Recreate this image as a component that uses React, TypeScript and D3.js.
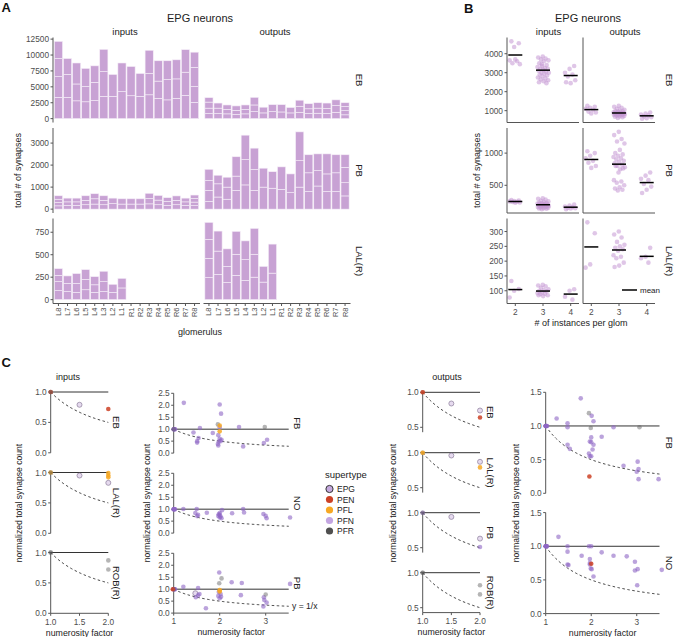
import { useEffect, useRef } from 'react'
import * as d3 from 'd3'

const FONT = '"Liberation Sans", Arial, Helvetica, sans-serif'
const AX = '#555'
const TICK_TXT = '#4d4d4d'
const BAR = '#c8a2d4'

// ---------- panel A: total synapses per glomerulus (cumulative tops of each EPG neuron) ----------
const gloms = ['L8', 'L7', 'L6', 'L5', 'L4', 'L3', 'L2', 'L1', 'R1', 'R2', 'R3', 'R4', 'R5', 'R6', 'R7', 'R8']

const ebInputs = [
  [3350, 6600, 9450, 12150], [3350, 6950, 9450], [2800, 5450, 8750], [2650, 5050, 7900],
  [2850, 5700, 8300], [3500, 7400, 10900], [3500, 6950], [4250, 8750],
  [3600, 8200], [3500, 7100], [3750, 7100, 10750], [3200, 5900, 9100],
  [2950, 6150, 9100], [3200, 6250, 9250], [3650, 7300, 10850], [2550, 5050, 8050, 10450],
]
const ebOutputs = [
  [800, 1650, 2600, 3300], [800, 1650, 2450], [750, 1450, 2150], [650, 1300, 2000],
  [750, 1450, 2150], [1100, 2150, 3350], [900, 1800], [1100, 2200],
  [1050, 2200], [900, 1750], [1000, 1950, 2900], [800, 1550, 2350],
  [850, 1650, 2500], [800, 1600, 2450], [1000, 2050, 2950], [600, 1250, 1900, 2500],
]
const pbInputs = [
  [150, 300, 450, 607], [170, 330, 500], [170, 330, 500], [200, 400, 607],
  [230, 470, 700], [200, 400, 607], [250, 500], [230, 470],
  [230, 470], [230, 470], [240, 480, 720], [200, 410, 620],
  [170, 350, 520], [200, 400, 600], [170, 330, 500], [160, 320, 480, 640],
]
const pbOutputs = [
  [350, 850, 1300, 1810], [550, 1150, 1540], [450, 1000, 1450], [850, 1500, 2380],
  [1100, 2250, 3360], [850, 1800, 2770], [1000, 1860], [950, 1700],
  [900, 1920], [750, 1600], [1000, 2200, 3510], [800, 1650, 2470],
  [1050, 1750, 2510], [800, 1600, 2510], [800, 1650, 2470], [600, 1200, 1900, 2470],
]
const lalInputs = [
  [100, 200, 270, 345], [90, 180, 264], [80, 180, 290], [110, 225, 334],
  [80, 165, 256], [90, 200, 316], [80, 171], [130, 237],
  [], [], [], [], [], [], [], [],
]
const lalOutputs = [
  [245, 460, 670, 860], [280, 540, 763], [190, 370, 565], [270, 505, 760],
  [215, 445, 654], [250, 505, 793], [195, 370], [295, 618],
  [], [], [], [], [], [], [], [],
]

// ---------- panel B: synapses per neuron, grouped by # of instances per glom (2, 3, 4) ----------
const instances = ['2', '3', '4']
const bEbIn = [
  [4650, 4550, 4350, 3650, 3600, 3500, 3450, 3700],
  [3850, 3800, 3750, 3700, 3650, 3600, 3500, 3400, 3350, 3300, 3250, 3200, 3200, 3150, 3100, 3050, 3000, 3000, 2950, 2900, 2850, 2800, 2750, 2700, 2650, 2600, 2550, 2500, 2450, 3450],
  [3350, 3200, 3000, 2900, 2800, 2600, 2450, 2500],
]
const bEbOut = [
  [1250, 1200, 1150, 1100, 1050, 950, 900, 850],
  [1250, 1200, 1150, 1100, 1050, 1000, 980, 960, 940, 920, 900, 890, 880, 870, 860, 850, 840, 830, 820, 810, 800, 790, 780, 760, 740, 720, 700, 680, 650, 620],
  [900, 850, 800, 750, 700, 650, 600, 580],
]
const bPbIn = [
  [270, 265, 255, 250, 245, 240, 235, 230],
  [300, 290, 280, 260, 250, 240, 230, 225, 220, 215, 210, 205, 200, 200, 195, 190, 185, 180, 180, 175, 170, 170, 165, 160, 155, 150, 145, 140, 135, 130],
  [200, 185, 170, 160, 150, 145, 140, 130],
]
const bPbOut = [
  [1030, 1000, 960, 920, 880, 850, 800, 770],
  [1330, 1280, 1220, 1180, 1150, 1050, 1000, 980, 960, 940, 920, 900, 880, 860, 840, 820, 800, 780, 750, 800, 760, 700, 580, 560, 540, 500, 470, 450, 430, 420],
  [700, 650, 600, 580, 520, 480, 430, 380],
]
const bLalIn = [
  [133, 106, 100, 77],
  [120, 118, 115, 110, 105, 102, 100, 98, 95, 92, 90, 88, 85, 82, 85],
  [105, 100, 80, 70],
]
const bLalOut = [
  [331, 294, 189, 178],
  [300, 290, 280, 265, 255, 250, 245, 240, 235, 220, 215, 210, 195, 185, 180],
  [245, 215, 210, 195],
]

// ---------- panel C: normalized total synapse count vs numerosity factor ----------
type Pt = [number, number, string]
const supertypes = ['EPG', 'PEN', 'PFL', 'PFN', 'PFR']

const cInEB: Pt[] = [[1, 1, 'PEN'], [1, 1, 'PFR'], [1.5, 0.79, 'EPG'], [2, 0.72, 'PEN']]
const cInLAL: Pt[] = [[1, 1, 'PFL'], [1, 1, 'PFR'], [1.5, 0.95, 'EPG'], [2, 0.83, 'EPG'], [2, 0.99, 'PFL'], [2, 0.95, 'PFL'], [2, 0.92, 'PFL']]
const cInROB: Pt[] = [[1, 1, 'PFR'], [1, 1, 'PFR'], [2, 0.87, 'PFR'], [2, 0.72, 'PFR']]

const cInFB: Pt[] = [
  [1, 1, 'PFN'], [1, 1, 'PFN'], [1.01, 1, 'PFN'], [1.02, 1, 'PFN'], [1.03, 1, 'PFN'], [1, 1, 'PFR'],
  [1.22, 2.1, 'PFN'], [2.0, 2.03, 'PFN'], [2.03, 1.65, 'PFN'], [1.57, 1.05, 'PFN'], [1.43, 0.86, 'PFN'],
  [1.54, 0.63, 'PFN'], [1.51, 0.5, 'PFN'], [1.51, 0.44, 'PFN'], [1.85, 0.84, 'PFN'], [1.96, 1.2, 'PFR'],
  [2.0, 1.08, 'PFN'], [1.97, 0.75, 'PFN'], [2.0, 0.6, 'PFN'], [2.02, 0.5, 'PFN'], [1.98, 0.48, 'PFN'],
  [1.96, 0.38, 'PFN'], [1.97, 0.32, 'PFN'], [2.04, 0.56, 'PFN'], [2.0, 1.15, 'PFL'], [2.0, 0.91, 'PFL'],
  [2.42, 1.09, 'PFN'], [2.51, 0.28, 'PFN'], [2.98, 1.09, 'PFR'], [2.96, 0.42, 'PFN'], [3.03, 0.56, 'PFN'],
]
const cInNO: Pt[] = [
  [1, 1, 'PFN'], [1, 1, 'PFN'], [1.01, 1, 'PFN'], [1.02, 1, 'PFN'], [1.03, 1, 'PFN'], [1, 1, 'PFN'],
  [1.21, 1.01, 'PFN'], [1.5, 1.01, 'PFN'], [1.47, 0.84, 'PFN'], [1.53, 0.76, 'PFN'], [1.51, 0.71, 'PFN'],
  [1.72, 0.85, 'PFN'], [2.0, 0.84, 'PFN'], [1.98, 0.79, 'PFN'], [2.0, 0.76, 'PFN'], [1.97, 0.72, 'PFN'],
  [2.02, 0.69, 'PFN'], [2.0, 0.65, 'PFN'], [2.04, 0.62, 'PFN'], [2.05, 0.96, 'PFN'], [2.27, 0.83, 'PFN'],
  [2.51, 1.01, 'PFN'], [2.53, 0.86, 'PFN'], [2.95, 0.8, 'PFN'], [3.0, 0.72, 'PFN'], [3.02, 0.62, 'PFN'],
  [3.53, 0.65, 'PFN'],
]
const cInPB: Pt[] = [
  [1, 1, 'PFN'], [1, 1, 'PFN'], [1.01, 1, 'PFN'], [1.02, 1, 'PFN'], [1.03, 1, 'PFN'], [1, 1, 'PFR'], [0.98, 1, 'PEN'],
  [1.21, 1.1, 'PFN'], [1.53, 1.05, 'PFN'], [1.47, 0.83, 'EPG'], [1.53, 0.74, 'PFN'], [1.48, 0.66, 'PFN'],
  [1.56, 0.8, 'PFN'], [1.7, 0.2, 'PFN'], [1.99, 1.7, 'PFN'], [2.04, 1.45, 'PFR'], [1.99, 1.25, 'PFR'],
  [2.26, 1.29, 'PFN'], [2.48, 1.26, 'PFN'], [1.98, 0.88, 'PFN'], [2.02, 0.8, 'PFN'], [1.97, 0.72, 'PFN'],
  [2.03, 0.68, 'PFN'], [2.0, 0.62, 'PFN'], [2.0, 0.96, 'PFL'], [2.0, 0.9, 'PFL'], [2.46, 0.75, 'PFN'],
  [2.96, 0.66, 'PFN'], [2.97, 0.55, 'PFN'], [2.95, 0.28, 'PFN'], [3.0, 0.78, 'PFR'], [3.02, 0.44, 'PFN'],
  [3.53, 1.22, 'PFN'],
]

const cOutEB: Pt[] = [[1, 1, 'PFR'], [1, 1, 'PEN'], [1.5, 0.84, 'EPG'], [2, 0.74, 'EPG'], [2, 0.64, 'PEN']]
const cOutLAL: Pt[] = [[1, 1, 'PFR'], [1, 1, 'PFL'], [1.5, 0.96, 'EPG'], [2, 0.87, 'EPG'], [2, 0.79, 'PFL']]
const cOutPB: Pt[] = [[1, 1, 'PFN'], [1, 1, 'PFR'], [1.5, 0.94, 'EPG'], [2, 0.63, 'EPG'], [2, 0.51, 'PFN']]
const cOutROB: Pt[] = [[1, 1, 'PFR'], [1, 1, 'PFR'], [2, 0.82, 'PFR'], [2, 0.69, 'PFR']]

const cOutFB: Pt[] = [
  [1, 1, 'PFN'], [1, 1, 'PFN'], [1.01, 1, 'PFN'], [1.02, 1, 'PFN'], [1.03, 1, 'PFN'], [1, 1, 'PFN'],
  [1.24, 1.11, 'PFN'], [1.77, 1.41, 'PFN'], [1.48, 1.04, 'PFN'], [1.48, 0.98, 'PFN'], [1.48, 0.72, 'PFN'],
  [1.53, 0.66, 'PFN'], [1.95, 1.19, 'PFR'], [2.01, 1.15, 'PFN'], [2.05, 1.07, 'PFN'], [1.99, 0.97, 'PFR'],
  [2.0, 0.83, 'PFN'], [1.97, 0.77, 'PFN'], [2.0, 0.76, 'PFN'], [2.05, 0.72, 'PFN'], [2.03, 0.65, 'PFN'],
  [1.95, 0.59, 'PFN'], [1.97, 0.55, 'PFN'], [2.0, 0.55, 'PFN'], [2.23, 0.84, 'PFN'], [1.96, 0.25, 'PEN'],
  [2.49, 0.98, 'PFN'], [2.71, 0.41, 'PFN'], [3.06, 0.98, 'PFR'], [3.02, 0.47, 'PFN'], [3.04, 0.36, 'PFN'],
  [3.0, 0.32, 'PFN'], [3.04, 0.21, 'PFN'], [3.48, 0.21, 'PFN'],
]
const cOutNO: Pt[] = [
  [1, 1, 'PFN'], [1, 1, 'PFN'], [1.01, 1, 'PFN'], [1.02, 1, 'PFN'], [1.03, 1, 'PFN'], [1, 1, 'PFN'],
  [1.28, 1.14, 'PFN'], [1.48, 1.0, 'PFN'], [1.48, 0.92, 'PFN'], [1.48, 0.73, 'PFN'], [1.5, 0.72, 'PFN'],
  [1.79, 0.86, 'PFN'], [1.95, 1.0, 'PFN'], [2.0, 1.0, 'PFN'], [1.97, 0.81, 'PFN'], [1.97, 0.75, 'PFN'],
  [1.99, 0.67, 'PFN'], [2.01, 0.66, 'PFN'], [1.97, 0.73, 'PFN'], [2.0, 0.74, 'PEN'], [2.05, 0.55, 'PFN'],
  [2.23, 0.91, 'PFN'], [2.49, 0.86, 'PFN'], [2.78, 0.85, 'PFN'], [2.96, 0.77, 'PFN'], [3.02, 0.66, 'PFN'],
  [2.96, 0.64, 'PFN'], [3.01, 0.42, 'PFN'], [3.55, 0.65, 'PFN'],
]

const ptFill: Record<string, string> = { EPG: '#e0d2ec', PEN: '#cc4125', PFL: '#f7a823', PFN: '#8e66c4', PFR: '#5a5a5a' }
const ptAlpha: Record<string, number> = { EPG: 0.8, PEN: 0.85, PFL: 0.85, PFN: 0.6, PFR: 0.45 }
const legendFill: Record<string, string> = { EPG: '#c5a9df', PEN: '#cc4125', PFL: '#f7a823', PFN: '#c3a5e1', PFR: '#4f4f4f' }

export default function App() {
  const ref = useRef<SVGSVGElement>(null)

  useEffect(() => {
    if (!ref.current) return
    const svg = d3.select(ref.current)
    svg.selectAll('*').remove()
    const g = svg.append('g')

    const txt = (x: number, y: number, s: string, o: any = {}) =>
      g.append('text')
        .attr('transform', `translate(${x},${y})` + (o.rotate ? ` rotate(${o.rotate})` : ''))
        .attr('font-family', FONT)
        .attr('font-size', o.size ?? 8.3)
        .attr('font-weight', o.weight ?? 'normal')
        .attr('text-anchor', o.anchor ?? 'middle')
        .attr('dominant-baseline', o.baseline ?? 'central')
        .attr('fill', o.fill ?? '#222')
        .text(s)

    const vline = (x: number, y1: number, y2: number) =>
      g.append('line').attr('x1', x).attr('x2', x).attr('y1', y1).attr('y2', y2).attr('stroke', AX).attr('stroke-width', 1)
    const hline = (y: number, x1: number, x2: number, color = AX, w = 1) =>
      g.append('line').attr('x1', x1).attr('x2', x2).attr('y1', y).attr('y2', y).attr('stroke', color).attr('stroke-width', w)

    const yTicks = (y: d3.ScaleLinear<number, number>, x: number, ticks: number[], fmt: (v: number) => string, labels = true) => {
      ticks.forEach(t => {
        hline(y(t), x - 2.5, x)
        if (labels) txt(x - 4, y(t), fmt(t), { anchor: 'end', fill: TICK_TXT })
      })
    }

    // ===== panel labels =====
    txt(1.5, 11.7, 'A', { anchor: 'start', baseline: 'alphabetic', size: 13, weight: 'bold', fill: '#111' })
    txt(464, 12.7, 'B', { anchor: 'start', baseline: 'alphabetic', size: 13, weight: 'bold', fill: '#111' })
    txt(1.5, 366.7, 'C', { anchor: 'start', baseline: 'alphabetic', size: 13, weight: 'bold', fill: '#111' })

    // ===== panel A =====
    const rowTop = [37.5, 128, 218.5]
    const rowH = 85
    const rowsA = [
      { label: 'EB', sets: [ebInputs, ebOutputs], ticks: [0, 2500, 5000, 7500, 10000, 12500] },
      { label: 'PB', sets: [pbInputs, pbOutputs], ticks: [0, 1000, 2000, 3000] },
      { label: 'LAL(R)', sets: [lalInputs, lalOutputs], ticks: [0, 250, 500, 750] },
    ]
    const aFacets: [number, number][] = [[53, 200], [203.5, 350.5]]

    txt(200, 18, 'EPG neurons', { size: 11 })
    txt(125, 31, 'inputs', { size: 9.5 })
    txt(275, 31, 'outputs', { size: 9.5 })

    rowsA.forEach((row, r) => {
      const max = d3.max(row.sets.flat().map(s => (s.length ? s[s.length - 1] : 0))) as number
      const pad = max * 0.05
      const y = d3.scaleLinear().domain([-pad, max + pad]).range([rowTop[r] + rowH, rowTop[r]])
      row.sets.forEach((set, f) => {
        const x = d3.scaleBand().domain(gloms).range(aFacets[f]).paddingInner(0.1).paddingOuter(0.15)
        set.forEach((tops, i) => {
          tops.forEach((top, k) => {
            const bottom = k ? tops[k - 1] : 0
            g.append('rect')
              .attr('x', x(gloms[i]) as number)
              .attr('width', x.bandwidth())
              .attr('y', y(top))
              .attr('height', y(bottom) - y(top))
              .attr('fill', BAR)
              .attr('stroke', '#f6eef8')
              .attr('stroke-width', 0.6)
          })
        })
        if (r === 2) {
          hline(rowTop[r] + rowH, aFacets[f][0], aFacets[f][1])
          gloms.forEach(gl => {
            const cx = (x(gl) as number) + x.bandwidth() / 2
            vline(cx, rowTop[r] + rowH, rowTop[r] + rowH + 2.5)
            txt(cx, rowTop[r] + rowH + 4, gl, { rotate: -90, anchor: 'end', size: 7.5, fill: TICK_TXT })
          })
        }
      })
      vline(aFacets[0][0], rowTop[r], rowTop[r] + rowH)
      yTicks(y, aFacets[0][0], row.ticks, d3.format('d'))
      txt(359, rowTop[r] + rowH / 2, row.label, { rotate: 90, size: 9.5 })
    })
    txt(18, 170.5, 'total # of synapses', { rotate: -90, size: 9 })
    txt(200, 332, 'glomerulus', { size: 9 })

    // ===== panel B =====
    const rowsB = [
      { label: 'EB', sets: [bEbIn, bEbOut], ticks: [1000, 2000, 3000, 4000] },
      { label: 'PB', sets: [bPbIn, bPbOut], ticks: [500, 1000] },
      { label: 'LAL(R)', sets: [bLalIn, bLalOut], ticks: [100, 150, 200, 250, 300] },
    ]
    const bFacets: [number, number][] = [[507, 579], [583, 655]]
    txt(588, 17.5, 'EPG neurons', { size: 11 })
    txt(548.5, 31, 'inputs', { size: 9.5 })
    txt(625, 31, 'outputs', { size: 9.5 })

    rowsB.forEach((row, r) => {
      const all = row.sets.flat(2)
      const [lo, hi] = d3.extent(all) as [number, number]
      const pad = (hi - lo) * 0.05
      const y = d3.scaleLinear().domain([lo - pad, hi + pad]).range([rowTop[r] + rowH, rowTop[r]])
      row.sets.forEach((groups, f) => {
        const x = d3.scalePoint().domain(instances).range(bFacets[f]).padding(0.3)
        groups.forEach((vals, gi) => {
          const cx = x(instances[gi]) as number
          vals.forEach((v, i) => {
            const jit = (((i * 0.618034 + 0.17 + gi * 0.31) % 1) - 0.5) * 12
            g.append('circle').attr('cx', cx + jit).attr('cy', y(v)).attr('r', 2.3)
              .attr('fill', '#c598d3').attr('opacity', 0.55)
          })
          const m = d3.mean(vals) as number
          hline(y(m), cx - 7, cx + 7, '#000', 1.5)
        })
        vline(bFacets[f][0], rowTop[r], rowTop[r] + rowH)
        hline(rowTop[r] + rowH, bFacets[f][0], bFacets[f][1])
        if (r === 2) {
          instances.forEach(k => {
            const cx = x(k) as number
            vline(cx, rowTop[r] + rowH, rowTop[r] + rowH + 2.5)
            txt(cx, rowTop[r] + rowH + 8, k, { fill: TICK_TXT })
          })
        }
      })
      yTicks(y, bFacets[0][0], row.ticks, d3.format('d'))
      txt(669, rowTop[r] + rowH / 2, row.label, { rotate: 90, size: 9.5 })
    })
    txt(477, 170.5, 'total # of synapses', { rotate: -90, size: 9 })
    txt(581, 323, '# of instances per glom', { size: 9 })
    hline(290, 622, 637, '#000', 1.5)
    txt(640, 290, 'mean', { anchor: 'start', size: 8 })

    // ===== panel C =====
    const cols = [
      {
        xd: [1, 2], xr: [50.7, 108.3], yd: [0, 1], tops: [392, 472.5, 552.5], h: 60.8,
        yt: [0, 0.5, 1], xt: [1, 1.5, 2], xf: d3.format('.1f'), yLabX: 19, stripX: 116,
        rows: [{ label: 'EB', pts: cInEB }, { label: 'LAL(R)', pts: cInLAL }, { label: 'ROB(R)', pts: cInROB }],
      },
      {
        xd: [1, 3.5], xr: [173.7, 288.7], yd: [0, 2.5], tops: [393.3, 473.3, 553.3], h: 59.8,
        yt: [0, 0.5, 1, 1.5, 2, 2.5], xt: [1, 2, 3], xf: d3.format('d'), yLabX: 146.7, stripX: 297.5,
        rows: [{ label: 'FB', pts: cInFB }, { label: 'NO', pts: cInNO }, { label: 'PB', pts: cInPB }],
      },
      {
        xd: [1, 2], xr: [422.7, 480], yd: [0.43, 1], tops: [392.3, 452.7, 512.7, 572.7], h: 39.9,
        yt: [0.5, 1], xt: [1, 1.5, 2], xf: d3.format('.1f'), yLabX: 393, stripX: 490,
        rows: [{ label: 'EB', pts: cOutEB }, { label: 'LAL(R)', pts: cOutLAL }, { label: 'PB', pts: cOutPB }, { label: 'ROB(R)', pts: cOutROB }],
      },
      {
        xd: [1, 3.5], xr: [545.7, 659.5], yd: [0, 1.5], tops: [392.3, 512.6], h: 101,
        yt: [0, 0.5, 1, 1.5], xt: [1, 2, 3], xf: d3.format('d'), yLabX: 515.7, stripX: 669,
        rows: [{ label: 'FB', pts: cOutFB }, { label: 'NO', pts: cOutNO }],
      },
    ]

    txt(68, 377, 'inputs', { size: 9 })
    txt(447, 377, 'outputs', { size: 9 })

    cols.forEach(col => {
      const x = d3.scaleLinear().domain(col.xd).range(col.xr)
      col.rows.forEach((row, r) => {
        const top = col.tops[r]
        const y = d3.scaleLinear().domain(col.yd).range([top + col.h, top])
        vline(col.xr[0], top, top + col.h)
        yTicks(y, col.xr[0], col.yt, d3.format('.1f'))
        hline(y(1), col.xr[0], col.xr[1], '#333', 1)
        const curve = d3.range(col.xd[0], col.xd[1] + 0.001, 0.02).map(v => [x(v), y(1 / v)] as [number, number])
        g.append('path').attr('d', d3.line()(curve) as string).attr('fill', 'none')
          .attr('stroke', '#111').attr('stroke-width', 0.8).attr('stroke-dasharray', '2.5,2.5')
        row.pts.forEach(([px, py, t]) => {
          const c = g.append('circle').attr('cx', x(px)).attr('cy', y(py))
            .attr('r', t === 'EPG' ? 2.5 : 2.3)
            .attr('fill', ptFill[t]).attr('opacity', ptAlpha[t])
          if (t === 'EPG') c.attr('stroke', '#7d6c8e').attr('stroke-width', 0.8)
        })
        txt(col.stripX, top + col.h / 2, row.label, { rotate: 90, size: 9.5 })
        if (r === col.rows.length - 1) {
          const yb = top + col.h
          hline(yb, col.xr[0], col.xr[1])
          col.xt.forEach(t => {
            vline(x(t), yb, yb + 2.5)
            txt(x(t), yb + 8.3, col.xf(t), { fill: TICK_TXT })
          })
          txt((col.xr[0] + col.xr[1]) / 2, yb + 19.3, 'numerosity factor', { size: 8.8 })
        }
      })
      txt(col.yLabX, 503, 'normalized total synapse count', { rotate: -90, size: 8.6 })
    })
    txt(292, 606, 'y = 1/x', { anchor: 'start', size: 8.6 })

    // legend
    txt(325, 474, 'supertype', { anchor: 'start', size: 9.5 })
    supertypes.forEach((t, i) => {
      const yy = 489 + i * 10.5
      const c = g.append('circle').attr('cx', 329.5).attr('cy', yy).attr('r', 3.6).attr('fill', legendFill[t])
      if (t === 'EPG') c.attr('stroke', '#333').attr('stroke-width', 1)
      txt(337, yy, t, { anchor: 'start', size: 8.5 })
    })
  }, [])

  return (
    <div style={{ position: 'absolute', left: 0, top: 0 }}>
      <svg ref={ref} width={675} height={637} style={{ display: 'block', background: '#fff' }} />
    </div>
  )
}
